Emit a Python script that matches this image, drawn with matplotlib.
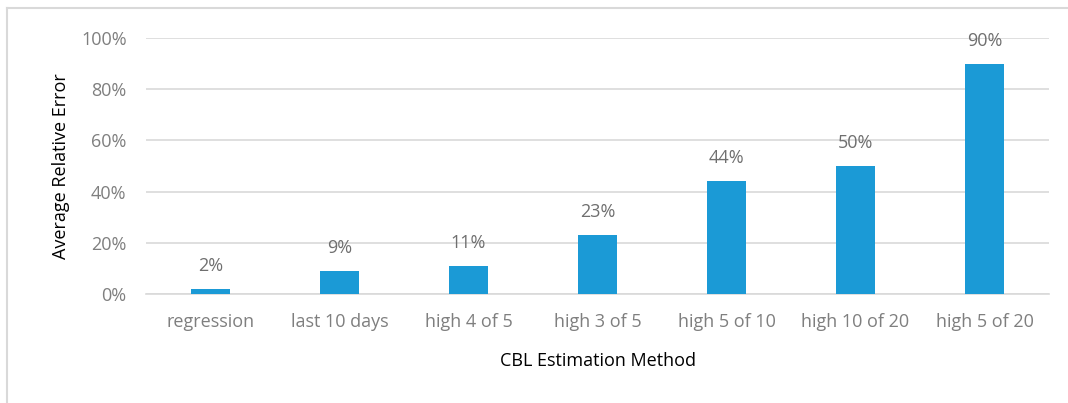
import matplotlib.pyplot as plt
from matplotlib.lines import Line2D
from matplotlib.ticker import FuncFormatter

methods = ['regression', 'last 10 days', 'high 4 of 5', 'high 3 of 5',
           'high 5 of 10', 'high 10 of 20', 'high 5 of 20']
avg_error = [2, 9, 11, 23, 44, 50, 90]
y_ticks = [0, 20, 40, 60, 80, 100]

plt.rcParams['font.family'] = ['Open Sans', 'DejaVu Sans']

W, H = 1068, 403
fig = plt.figure(figsize=(W / 100, H / 100), dpi=100)
ax = fig.add_axes([146 / W, 1 - 294 / H, 903 / W, 256 / H])

x = range(len(methods))
bars = ax.bar(x, avg_error, width=0.31, color='#1B9AD6', zorder=3)
for b, v in zip(bars, avg_error):
    ax.text(b.get_x() + b.get_width() / 2, v + 5.5, f'{v}%', ha='center',
            va='bottom', fontsize=13, color='#6F6F6F')

ax.set_xlim(-0.5, len(methods) - 0.5)
ax.set_ylim(0, 100)
ax.set_yticks(y_ticks)
ax.yaxis.set_major_formatter(FuncFormatter(lambda v, p: f'{v:.0f}%'))
ax.set_xticks(list(x))
ax.set_xticklabels(methods)
ax.grid(axis='y', color='#D9D9D9', linewidth=1.2, zorder=0)
ax.tick_params(length=0, labelsize=13, labelcolor='#7F7F7F')
ax.tick_params(axis='x', pad=14)
ax.tick_params(axis='y', pad=14)
for s in ['top', 'right', 'left']:
    ax.spines[s].set_visible(False)
ax.spines['bottom'].set_color('#D9D9D9')
ax.spines['bottom'].set_linewidth(1.2)

ax.set_ylabel('Average Relative Error', fontsize=13, color='black', labelpad=8)
ax.set_xlabel('CBL Estimation Method', fontsize=13, color='black', labelpad=15)

# light frame around the chart area
fig.add_artist(Line2D([7 / W, 1], [1 - 8 / H, 1 - 8 / H], color='#D9D9D9', lw=1.5))
fig.add_artist(Line2D([7 / W, 7 / W], [0, 1 - 8 / H], color='#D9D9D9', lw=1.5))

fig.savefig('out.png', dpi=100)
